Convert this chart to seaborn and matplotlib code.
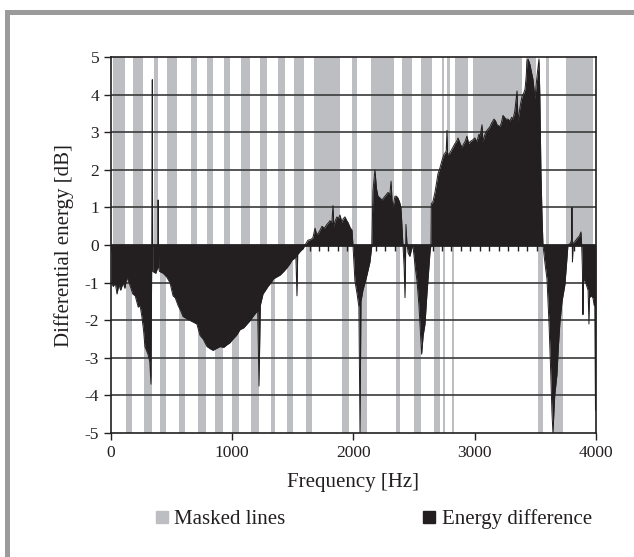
import numpy as np
import pandas as pd
import matplotlib
matplotlib.use("Agg")
import matplotlib.pyplot as plt
from matplotlib.lines import Line2D
from matplotlib.patches import Rectangle
import seaborn as sns

sns.set_style("ticks")
plt.rcParams['font.family'] = ['Liberation Serif', 'DejaVu Serif']
plt.rcParams['axes.unicode_minus'] = False

# masked line bands (Hz start, Hz end), above and below zero
upper_start = [14, 181, 355, 462, 616, 660, 792, 932, 1072, 1229, 1377, 1509, 1674, 1987, 2144,
               2400, 2560, 2730, 2771, 2837, 2985, 3423, 3590, 3752]
upper_end = [115, 264, 388, 544, 620, 709, 841, 981, 1146, 1287, 1435, 1592, 1889, 2029, 2334,
             2482, 2650, 2746, 2796, 2944, 3390, 3505, 3612, 3975]
lower_start = [124, 272, 404, 561, 633, 717, 858, 998, 1155, 1320, 1452, 1608, 1905, 2054, 2350,
               2499, 2664, 2738, 2812, 2958, 3395, 3522, 3645]
lower_end = [173, 338, 453, 610, 638, 783, 924, 1056, 1221, 1353, 1501, 1658, 1963, 2111, 2383,
             2557, 2713, 2755, 2829, 2963, 3400, 3563, 3728]

# energy difference curve
freq = [0, 20, 35, 50, 65, 80, 100, 115, 130, 150, 180, 200, 225, 240, 255, 270, 280, 305, 320, 330,
        336, 341, 344, 370, 385, 389, 393, 400, 430, 460, 487, 512, 530, 553, 575, 594, 620, 650, 680,
        709, 734, 760, 792, 815, 841, 870, 899, 930, 957, 980, 1006, 1035, 1064, 1095, 1122, 1150,
        1171, 1195, 1210, 1221, 1232, 1254, 1275, 1295, 1320, 1340, 1365, 1394, 1425, 1452, 1475,
        1493, 1515, 1525, 1534, 1540, 1565, 1584, 1600, 1625, 1650, 1666, 1683, 1695, 1707, 1725,
        1740, 1760, 1781, 1795, 1806, 1822, 1831, 1838, 1850, 1864, 1875, 1889, 1905, 1915, 1930,
        1945, 1955, 1975, 1988, 1996, 2012, 2030, 2045, 2054, 2062, 2078, 2095, 2111, 2125, 2136,
        2152, 2161, 2177, 2190, 2202, 2220, 2235, 2260, 2285, 2300, 2310, 2318, 2326, 2342, 2355,
        2367, 2380, 2392, 2408, 2418, 2425, 2430, 2433, 2440, 2450, 2465, 2480, 2490, 2510, 2524,
        2540, 2555, 2562, 2575, 2590, 2606, 2620, 2631, 2639, 2642, 2655, 2672, 2685, 2697, 2713,
        2730, 2745, 2755, 2765, 2771, 2776, 2795, 2812, 2837, 2850, 2862, 2880, 2895, 2910, 2920,
        2936, 2950, 2961, 2985, 3000, 3018, 3035, 3045, 3060, 3068, 3085, 3101, 3126, 3140, 3159,
        3172, 3184, 3208, 3220, 3233, 3245, 3258, 3275, 3291, 3305, 3316, 3330, 3349, 3357, 3375,
        3390, 3405, 3415, 3425, 3431, 3440, 3456, 3468, 3481, 3497, 3505, 3514, 3530, 3537, 3546,
        3555, 3563, 3580, 3596, 3613, 3625, 3637, 3645, 3660, 3678, 3690, 3703, 3720, 3744, 3755,
        3769, 3790, 3800, 3802, 3806, 3812, 3827, 3851, 3865, 3876, 3882, 3888, 3893, 3897, 3915,
        3935, 3942, 3946, 3960, 3975, 3985, 3990, 3996, 4000]
energy = [-1.0, -1.1, -1.0, -1.3, -1.05, -1.2, -1.0, -1.15, -0.85, -1.0, -1.3, -1.35, -1.65, -1.6,
          -1.9, -2.3, -2.7, -2.9, -3.1, -3.7, -0.5, 4.4, -0.7, -0.75, -0.6, 1.2, -0.6, -0.7, -0.75,
          -0.85, -1.0, -1.35, -1.4, -1.6, -1.75, -1.9, -1.95, -2.0, -2.05, -2.1, -2.4, -2.5, -2.7,
          -2.75, -2.8, -2.75, -2.7, -2.72, -2.65, -2.6, -2.5, -2.4, -2.25, -2.2, -2.1, -2.0, -1.9,
          -1.8, -1.75, -3.75, -1.6, -1.3, -1.2, -1.1, -1.0, -0.9, -0.85, -0.8, -0.7, -0.6, -0.5,
          -0.4, -0.35, -0.3, -1.35, -0.25, -0.15, -0.1, 0.0, 0.13, 0.15, 0.2, 0.45, 0.3, 0.3, 0.4,
          0.5, 0.45, 0.55, 0.6, 0.65, 0.6, 1.05, 0.5, 0.65, 0.75, 0.7, 0.8, 0.6, 0.7, 0.75,
          0.65, 0.6, 0.45, 0.4, 0.0, -0.95, -1.3, -1.65, -5.0, -1.5, -1.2, -1.0, -0.8, -0.6, -0.45,
          0.0, 1.45, 2.0, 1.5, 1.3, 1.25, 1.2, 1.3, 1.4, 1.35, 1.7, 1.2, 1.0, 1.3, 1.3,
          1.25, 1.15, 1.0, 0.0, -0.6, -1.4, -0.3, 0.55, 0.1, -0.2, -0.3, -0.1, 0.0, -0.6, -0.95,
          -1.6, -2.5, -2.9, -2.4, -2.1, -1.3, -0.7, -0.2, 0.0, 1.1, 1.15, 1.4, 1.65, 1.9, 2.05,
          2.25, 2.4, 2.45, 2.5, 3.05, 2.4, 2.45, 2.55, 2.7, 2.75, 2.85, 2.7, 2.6, 2.7, 2.75,
          2.9, 2.7, 2.75, 2.8, 2.85, 2.75, 2.95, 2.9, 3.2, 2.75, 2.95, 3.05, 3.15, 3.25, 3.35,
          3.3, 3.2, 3.15, 3.25, 3.45, 3.4, 3.35, 3.35, 3.3, 3.4, 3.35, 3.55, 4.1, 3.3, 3.7,
          3.95, 4.05, 4.15, 4.5, 4.9, 4.95, 4.8, 4.6, 4.4, 3.9, 4.2, 4.5, 4.95, 4.0, 2.0,
          0.8, 0.0, -0.5, -0.9, -2.1, -3.2, -4.45, -5.0, -4.0, -3.45, -2.7, -2.05, -1.5, -1.05, -0.6,
          0.0, 0.05, 0.15, 1.0, -0.45, 0.05, 0.1, 0.2, 0.25, 0.35, 0.0, -0.6, -1.85, -0.9, -1.0,
          -1.2, -2.1, -1.4, -1.35, -1.4, -1.6, -1.5, -4.4, -1.4]

df = pd.DataFrame({'freq': freq, 'energy': energy})

gray = '#bdbec2'
black = '#231f20'

fig = plt.figure(figsize=(6.34, 5.57), dpi=100)
ax = fig.add_axes([0.175, 0.2225, 0.765, 0.675])

# masked bands
us, ue = np.array(upper_start), np.array(upper_end)
ls_, le = np.array(lower_start), np.array(lower_end)
ax.bar(us, 5, width=ue - us, bottom=0, align='edge', color=gray, linewidth=0, zorder=1)
ax.bar(ls_, 5, width=le - ls_, bottom=-5, align='edge', color=gray, linewidth=0, zorder=1)

for yv in [-4, -3, -2, -1, 1, 2, 3, 4]:
    ax.axhline(yv, color='#3a3a3a', lw=1.2, zorder=2)

# small ticks along the zero line
ax.vlines(np.arange(0, 4000, 78), -0.17, 0, color=black, lw=1, zorder=2)

ax.fill_between(df['freq'], df['energy'], 0, color=black, linewidth=0, zorder=3)
sns.lineplot(data=df, x='freq', y='energy', color=black, lw=0.7, ax=ax, zorder=3, estimator=None)
ax.axhline(0, color=black, lw=2, zorder=4)

ax.set_xlim(0, 4000)
ax.set_ylim(-5, 5)
ax.set_xticks([0, 1000, 2000, 3000, 4000])
ax.set_yticks(range(-5, 6))
ax.tick_params(labelsize=12.5, length=5, width=1, color=black, labelcolor=black)
for s in ax.spines.values():
    s.set_visible(True)
    s.set_color(black)
    s.set_linewidth(1.2)
    s.set_zorder(5)
ax.set_xlabel('Frequency [Hz]', fontsize=15, color=black, labelpad=9)
ax.set_ylabel('Differential energy [dB]', fontsize=15, color=black, labelpad=8)

handles = [Line2D([], [], marker='s', ls='', color=gray, markersize=8),
           Line2D([], [], marker='s', ls='', color=black, markersize=8)]
fig.legend(handles, ['Masked lines', 'Energy difference'], loc='center',
           bbox_to_anchor=(0.586, 0.068), ncol=2, frameon=False, fontsize=15,
           handletextpad=0.1, columnspacing=6.4, handlelength=1.0, labelcolor=black)

# border of the figure (top and left)
fig.add_artist(Rectangle((5 / 634, 0), 5 / 634, 1 - 10 / 557, transform=fig.transFigure,
                         color='#9b9b9b', lw=0))
fig.add_artist(Rectangle((5 / 634, 1 - 15 / 557), 1, 5 / 557, transform=fig.transFigure,
                         color='#9b9b9b', lw=0))

fig.savefig('out.png', dpi=100)
